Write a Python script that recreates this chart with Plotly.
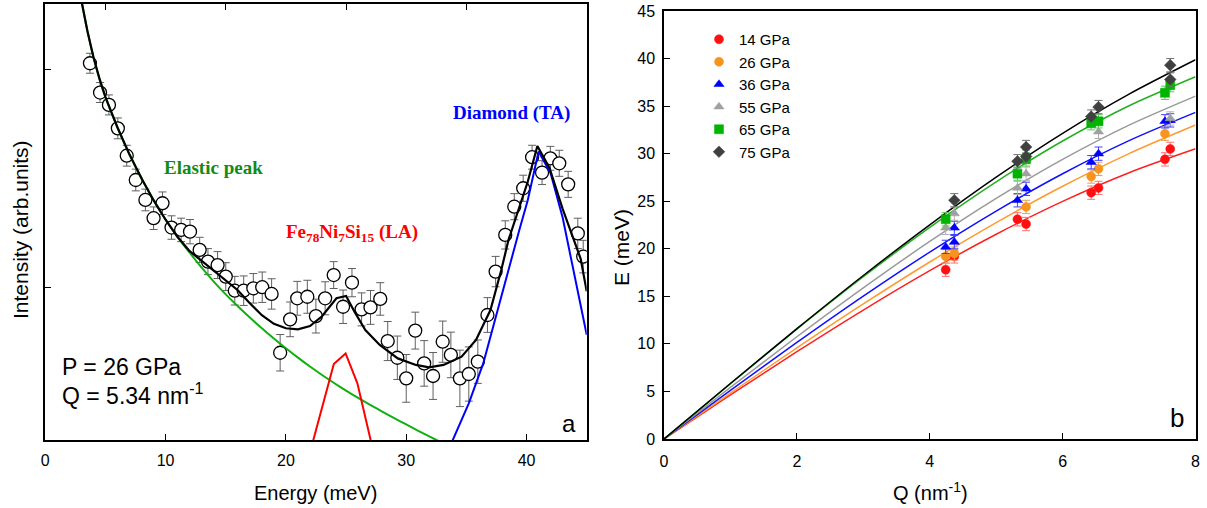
import plotly.graph_objects as go

# ---------------- Panel (a) : IXS spectrum ----------------
energy_exp = [3.71, 4.55, 5.29, 6.03, 6.77, 7.52, 8.32, 9.00, 9.74, 10.49,
              11.29, 12.03, 12.83, 13.52, 14.32, 15.00, 15.75, 16.49, 17.29, 18.03,
              18.81, 19.52, 20.35, 20.94, 21.78, 22.49, 23.26, 23.97, 24.75, 25.49,
              26.29, 27.03, 27.84, 28.46, 29.26, 30.00, 30.75, 31.49, 32.23, 33.03,
              33.71, 34.46, 35.20, 35.95, 36.75, 37.43, 38.23, 38.98, 39.72, 40.46,
              41.29, 41.98, 42.72, 43.46, 44.26, 44.71]
intensity_exp = [203.1, 189.6, 183.9, 173.1, 160.5, 149.3, 140.1, 131.7, 138.6, 127.4,
                 126.3, 125.5, 117.1, 111.7, 110.1, 104.8, 98.3, 98.3, 99.4, 99.9,
                 96.8, 69.7, 85.1, 94.8, 95.5, 86.6, 94.8, 105.5, 90.9, 102.0,
                 89.7, 90.6, 94.5, 75.1, 67.4, 57.9, 79.9, 64.8, 59.0, 74.8,
                 68.7, 57.9, 59.9, 65.6, 87.1, 107.1, 124.0, 137.0, 145.5, 159.8,
                 152.7, 159.3, 157.0, 147.3, 124.7, 114.0]
intensity_err = [4.6, 4.6, 4.6, 4.8, 4.8, 5.0, 5.0, 5.2, 5.2, 5.4,
                 5.4, 5.6, 5.8, 6.0, 6.2, 6.4, 6.6, 6.8, 6.8, 7.0,
                 7.0, 8.4, 8.0, 7.8, 7.6, 7.8, 7.6, 6.2, 7.7, 6.5,
                 7.6, 7.8, 7.5, 9.0, 10.0, 11.0, 8.5, 10.5, 10.8, 9.5,
                 10.5, 13.0, 12.5, 10.0, 8.0, 7.0, 6.5, 6.0, 6.0, 5.5,
                 5.5, 5.5, 6.0, 6.0, 7.0, 7.5]

energy_fit = [3.0, 3.5, 4.0, 4.5, 5.0, 6.0, 7.0, 8.0, 9.0, 10.0, 11.0, 12.0, 13.0,
              14.0, 15.0, 16.0, 17.0, 18.0, 19.0, 20.0, 21.0, 22.0, 23.0, 24.2, 25.0,
              25.7, 26.6, 27.8, 29.3, 30.8, 31.9, 33.1, 34.6, 35.8, 37.0, 37.9, 38.5,
              39.4, 40.1, 40.9, 41.9, 43.0, 44.0, 44.5, 45.0]
intensity_fit = [232, 218, 206, 196, 187.5, 173.5, 161, 150, 140, 131, 123, 116.5, 112,
                 107.5, 103, 98.5, 92.5, 87, 83, 81, 80.5, 82, 86.5, 94.8, 95.9,
                 88.6, 80.2, 73.3, 67.1, 64.1, 63.0, 64.1, 67.9, 75.6, 89.4, 107.8, 121.7,
                 137, 148.5, 165, 155, 136, 121, 113, 98]

energy_elastic = [3.0, 3.5, 4.0, 4.5, 5.0, 6.0, 7.0, 8.0, 9.0, 10.0, 11.0, 12.0, 13.0,
                  14.0, 15.0, 16.0, 17.0, 18.0, 19.0, 20.0, 21.0, 22.0, 23.0, 24.0, 25.0,
                  26.0, 27.0, 28.0, 29.0, 30.0, 31.0, 32.0, 33.0, 34.0]
intensity_elastic = [232, 218, 206, 196, 187.5, 173.5, 161, 150, 140, 131, 123, 115.8,
                     108.9, 102.5, 96.6, 91.1, 85.9, 80.95, 76.25, 71.75, 67.45, 63.35,
                     59.45, 55.75, 52.25, 48.9, 45.7, 42.6, 39.6, 36.65, 33.75, 30.9,
                     28.1, 25.35]

energy_la = [21.9, 23.98, 24.96, 25.94, 27.4]
intensity_la = [21.7, 64.5, 69.4, 55.6, 21.0]

energy_ta = [33.5, 33.87, 35.2, 36.4, 37.4, 38.5, 39.4, 40.1, 41.0, 42.0, 43.0, 44.0, 45.0]
intensity_ta = [24.8, 29.5, 46.4, 64.8, 84.8, 107.8, 126.3, 140, 162.4, 152.4, 132, 105, 78]

# ---------------- Panel (b) : dispersion ----------------
pressures = ["14 GPa", "26 GPa", "36 GPa", "55 GPa", "65 GPa", "75 GPa"]

q_14 = [4.24, 4.37, 5.32, 5.45, 6.43, 6.54, 7.54, 7.62]
e_14 = [17.8, 19.2, 23.1, 22.6, 25.9, 26.4, 29.4, 30.5]
q_26 = [4.24, 4.37, 5.45, 6.43, 6.54, 7.54]
e_26 = [19.2, 19.5, 24.4, 27.6, 28.4, 32.1]
q_36 = [4.24, 4.37, 4.37, 5.32, 5.45, 6.43, 6.54, 7.54, 7.62]
e_36 = [20.2, 20.7, 22.2, 25.1, 26.3, 29.1, 30.0, 33.4, 33.5]
q_55 = [4.24, 4.37, 5.32, 5.45, 6.54, 7.62]
e_55 = [22.2, 23.7, 26.4, 27.9, 32.3, 33.7]
q_65 = [4.24, 5.32, 5.45, 6.43, 6.54, 7.54, 7.62]
e_65 = [23.1, 27.9, 29.4, 33.2, 33.4, 36.4, 37.2]
q_75 = [4.37, 5.32, 5.45, 5.45, 6.43, 6.54, 7.62, 7.62]
e_75 = [25.1, 29.2, 29.7, 30.7, 33.9, 34.9, 37.8, 39.3]
e_err = 0.7

q_curve = [0, 1, 2, 3, 4, 5, 6, 7, 8]
fit_14 = [0, 4.63, 9.18, 13.56, 17.70, 21.53, 24.99, 28.00, 30.51]
fit_26 = [0, 4.82, 9.58, 14.20, 18.61, 22.75, 26.57, 30.01, 33.01]
fit_36 = [0, 5.12, 10.15, 15.02, 19.65, 23.96, 27.89, 31.37, 34.34]
fit_55 = [0, 5.42, 10.75, 15.89, 20.77, 25.30, 29.40, 33.00, 36.05]
fit_65 = [0, 5.83, 11.55, 17.06, 22.25, 27.04, 31.33, 35.04, 38.09]
fit_75 = [0, 5.84, 11.60, 17.19, 22.52, 27.53, 32.14, 36.26, 39.87]

FONT = "Liberation Sans, Arial, sans-serif"
SERIF = "Liberation Serif, Times New Roman, serif"

fig = go.Figure()

# ---- panel a ----
fig.add_trace(go.Scatter(
    x=energy_exp, y=intensity_exp, mode="markers", showlegend=False,
    error_y=dict(type="data", array=intensity_err, color="#606060", thickness=1, width=4),
    marker=dict(symbol="circle", size=13, color="white", line=dict(color="black", width=1.3)),
    xaxis="x", yaxis="y"))
fig.add_trace(go.Scatter(x=energy_elastic, y=intensity_elastic, mode="lines", showlegend=False,
                         line=dict(color="#10b010", width=2, shape="spline", smoothing=0.5),
                         xaxis="x", yaxis="y"))
fig.add_trace(go.Scatter(x=energy_la, y=intensity_la, mode="lines", showlegend=False,
                         line=dict(color="#ff0000", width=2), xaxis="x", yaxis="y"))
fig.add_trace(go.Scatter(x=energy_ta, y=intensity_ta, mode="lines", showlegend=False,
                         line=dict(color="#0000ff", width=2), xaxis="x", yaxis="y"))
fig.add_trace(go.Scatter(x=energy_fit, y=intensity_fit, mode="lines", showlegend=False,
                         line=dict(color="black", width=2.2), xaxis="x", yaxis="y"))
# empty trace to activate the top tick axis
fig.add_trace(go.Scatter(x=[], y=[], xaxis="x3", yaxis="y", showlegend=False, hoverinfo="skip"))

# ---- panel b ----
series = [
    (q_14, e_14, fit_14, "circle", "#ff1010", "#ff7070", "#ff2020"),
    (q_26, e_26, fit_26, "circle", "#f7941d", "#e0a060", "#ff9a30"),
    (q_36, e_36, fit_36, "triangle-up", "#0000ff", "#4040ff", "#1010ff"),
    (q_55, e_55, fit_55, "triangle-up", "#a0a0a0", "#b0b0b0", "#9a9a9a"),
    (q_65, e_65, fit_65, "square", "#00b400", "#60c860", "#20b020"),
    (q_75, e_75, fit_75, "diamond", "#404040", "#707070", "#000000"),
]
for name, (qs, es, fit, sym, mc, ec, lc) in zip(pressures, series):
    fig.add_trace(go.Scatter(x=q_curve, y=fit, mode="lines", showlegend=False,
                             line=dict(color=lc, width=1.5, shape="spline", smoothing=0.8),
                             xaxis="x2", yaxis="y2"))
for name, (qs, es, fit, sym, mc, ec, lc) in zip(pressures, series):
    fig.add_trace(go.Scatter(
        x=qs, y=es, mode="markers", name=name,
        error_y=dict(type="constant", value=e_err, color=ec, thickness=1, width=4),
        marker=dict(symbol=sym, size=9, color=mc, line=dict(color=mc, width=0.5)),
        xaxis="x2", yaxis="y2"))

axis_common = dict(showline=True, linecolor="black", linewidth=1.5, mirror=True,
                   ticks="inside", ticklen=6, tickwidth=1.3, tickcolor="black",
                   showgrid=False, zeroline=False,
                   tickfont=dict(family=FONT, size=16, color="black"))

W, H = 1207, 508
fig.update_layout(
    width=W, height=H, margin=dict(l=0, r=0, t=0, b=0),
    paper_bgcolor="white", plot_bgcolor="white",
    font=dict(family=FONT, size=16, color="black"),
    xaxis=dict(domain=[45.3 / W, 586.7 / W], range=[0, 45], tickvals=[0, 10, 20, 30, 40],
               anchor="y", automargin=False, ticklabelstandoff=5, **axis_common),
    xaxis3=dict(overlaying="x", side="top", range=[0, 45], tickvals=[5, 15, 25, 35],
                ticks="inside", ticklen=6, tickwidth=1.3, tickcolor="black",
                showticklabels=False, showline=False, showgrid=False, zeroline=False,
                anchor="y", automargin=False),
    yaxis=dict(domain=[(H - 440) / H, (H - 4) / H], range=[29.5, 230.4], tickvals=[100, 200],
               showticklabels=False, anchor="x", automargin=False, **axis_common),
    xaxis2=dict(domain=[664 / W, 1195.5 / W], range=[0, 8], dtick=2, tick0=0,
                anchor="y2", automargin=False, ticklabelstandoff=7, **axis_common),
    yaxis2=dict(domain=[(H - 439) / H, (H - 11) / H], range=[0, 45], dtick=5, tick0=0,
                anchor="x2", automargin=False, ticklabelstandoff=4, **axis_common),
    legend=dict(x=699 / W, y=1 - 23 / H, xanchor="left", yanchor="top",
                bgcolor="rgba(0,0,0,0)", borderwidth=0,
                font=dict(family=FONT, size=15, color="black"),
                tracegroupgap=0, itemwidth=30),
)

ann = []
def add_text(text, x, y, size, color="black", family=FONT, xanchor="center",
             yanchor="middle", angle=0):
    ann.append(dict(text=text, x=x / W, y=1 - y / H, xref="paper", yref="paper",
                    showarrow=False, xanchor=xanchor, yanchor=yanchor, textangle=angle,
                    font=dict(family=family, size=size, color=color)))

add_text("Energy (meV)", 316, 493, 20)
add_text("Intensity (arb.units)", 20, 230, 21, angle=-90)
add_text("Q (nm<sup>-1</sup>)", 930, 491, 20)
add_text("E (meV)", 621, 248, 21, angle=-90)
add_text("P = 26 GPa", 60, 367, 23, xanchor="left")
add_text("Q = 5.34 nm<sup>-1</sup>", 60, 394, 23, xanchor="left")
add_text("a", 569, 423, 24)
add_text("b", 1177, 418, 26)
add_text("<b>Elastic peak</b>", 213, 167, 19, color="#138a13", family=SERIF)
add_text("<b>Fe<sub>78</sub>Ni<sub>7</sub>Si<sub>15</sub> (LA)</b>", 352, 233, 19,
         color="#ff0000", family=SERIF)
add_text("<b>Diamond (TA)</b>", 511, 113, 19, color="#0000ff", family=SERIF)
fig.update_layout(annotations=ann)

fig.write_html("out.html")
